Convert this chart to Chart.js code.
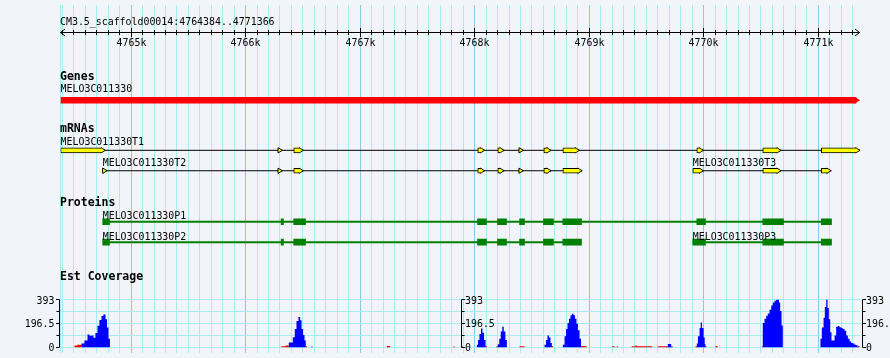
<!DOCTYPE html>
<html>
<head>
<meta charset="utf-8">
<script src="https://cdn.jsdelivr.net/npm/chart.js@4/dist/chart.umd.min.js"></script>
<style>
html,body{margin:0;padding:0;background:#f1f4f9;}
#wrap{width:890px;height:358px;position:relative;}
canvas{display:block;}
</style>
</head>
<body>
<div id="wrap"><canvas id="c" width="890" height="358"></canvas></div>
<script>
// ---------------- DATA ----------------
const regionStart = 4764384;
const regionEnd = 4771366;
const regionLabel = 'CM3.5_scaffold00014:4764384..4771366';
const rulerTicks = [4765000, 4766000, 4767000, 4768000, 4769000, 4770000, 4771000];
const rulerTickLabels = ['4765k', '4766k', '4767k', '4768k', '4769k', '4770k', '4771k'];
const trackTitles = ['Genes', 'mRNAs', 'Proteins', 'Est Coverage'];

const geneNames = ['MELO3C011330'];
const geneSpans = [[4764384, 4771366]];

const mrnaNames = ['MELO3C011330T1', 'MELO3C011330T2', 'MELO3C011330T3'];
const mrnaSpans = [[4764384, 4771366], [4764752, 4768939], [4769905, 4771114]];
const mrnaExonsT1 = [[4764384, 4764776], [4766304, 4766322], [4766420, 4766505], [4768027, 4768088],
  [4768202, 4768258], [4768392, 4768426], [4768604, 4768668], [4768770, 4768916],
  [4769940, 4769999], [4770516, 4770677], [4771027, 4771366]];
const mrnaExonsT2 = [[4764752, 4764791], [4766304, 4766322], [4766420, 4766505], [4768027, 4768088],
  [4768202, 4768258], [4768392, 4768426], [4768604, 4768668], [4768770, 4768939]];
const mrnaExonsT3 = [[4769905, 4769999], [4770516, 4770677], [4771027, 4771114]];

const proteinNames = ['MELO3C011330P1', 'MELO3C011330P2', 'MELO3C011330P3'];
const proteinSpans = [[4764752, 4771116], [4764752, 4768933], [4769905, 4771116]];
const proteinBlocksP1 = [[4764752, 4764811], [4766310, 4766330], [4766420, 4766523], [4768025, 4768103],
  [4768199, 4768278], [4768392, 4768435], [4768601, 4768688], [4768770, 4768933],
  [4769940, 4770016], [4770516, 4770697], [4771027, 4771116]];
const proteinBlocksP2 = [[4764752, 4764811], [4766310, 4766330], [4766420, 4766523], [4768025, 4768103],
  [4768199, 4768278], [4768392, 4768435], [4768601, 4768688], [4768770, 4768933]];
const proteinBlocksP3 = [[4769905, 4770016], [4770516, 4770697], [4771027, 4771116]];

const covTickValues = [0, 98.25, 196.5, 294.75, 393];
const covTickLabels = ['0', '', '196.5', '', '393'];

// EST coverage, blue series (bin start bp, depth)
const estBluePos = [4764384,
  4764566, 4764592, 4764619, 4764636, 4764654, 4764671, 4764688, 4764706, 4764723, 4764741, 4764758, 4764776, 4764789, 4764802, 4764815,
  4766377, 4766412, 4766429, 4766444, 4766461, 4766476, 4766488, 4766502, 4766514, 4766525,
  4768019, 4768029, 4768042, 4768055, 4768068, 4768082, 4768095,
  4768202, 4768215, 4768228, 4768241, 4768254, 4768268, 4768281,
  4768610, 4768623, 4768636, 4768649, 4768662, 4768674,
  4768770, 4768785, 4768798, 4768811, 4768824, 4768837, 4768850, 4768863, 4768876, 4768889, 4768902, 4768916, 4768929,
  4769687, 4769716,
  4769940, 4769950, 4769964, 4769974, 4769985, 4769999, 4770009, 4770016,
  4770516, 4770531, 4770546, 4770560, 4770575, 4770590, 4770604, 4770619, 4770633, 4770647, 4770658, 4770668, 4770680, 4770691,
  4771020, 4771032, 4771047, 4771058, 4771070, 4771082, 4771093, 4771105, 4771116, 4771128, 4771143, 4771157, 4771171, 4771186,
  4771201, 4771215, 4771230, 4771245, 4771259, 4771274, 4771288, 4771302, 4771317, 4771332, 4771346];
const estBlueDepth = [0,
  30, 56, 105, 94, 97, 78, 118, 178, 226, 258, 272, 231, 164, 70, 0,
  38, 83, 151, 218, 250, 223, 151, 102, 56, 0,
  20, 60, 110, 156, 120, 60, 0,
  25, 70, 130, 170, 130, 60, 0,
  20, 60, 97, 80, 35, 0,
  20, 90, 150, 200, 235, 265, 277, 265, 235, 195, 140, 70, 0,
  27, 0,
  30, 90, 160, 204, 160, 80, 25, 0,
  200, 235, 260, 280, 310, 345, 370, 385, 393, 393, 370, 300, 180, 0,
  70, 164, 245, 333, 393, 325, 231, 124, 56, 56, 97, 170, 175, 165,
  160, 151, 137, 97, 70, 48, 35, 30, 21, 16, 0];

// EST coverage, red series (bin start bp, depth)
const estRedPos = [4764384, 4764505, 4764531, 4764566, 4766313, 4766348, 4766377, 4766525, 4766534,
  4766575, 4766584, 4767233, 4767262, 4767815, 4767824, 4767882, 4767894, 4768095, 4768107,
  4768191, 4768202, 4768392, 4768435, 4768674, 4768684, 4768929, 4768977,
  4769201, 4769221, 4769241, 4769250, 4769372, 4769405, 4769414, 4769551, 4769599, 4769730,
  4769929, 4769940, 4770016, 4770024, 4770103, 4770121, 4770509, 4770516, 4771346, 4771362];
const estRedDepth = [0, 14, 20, 0, 8, 14, 0, 10, 0,
  8, 0, 10, 0, 8, 0, 10, 0, 10, 0,
  10, 0, 8, 0, 10, 0, 10, 0,
  8, 0, 8, 0, 8, 16, 8, 0, 8, 0,
  10, 0, 10, 0, 10, 0, 10, 0, 10, 0];

// ---------------- LAYOUT / STYLE ----------------
const L = {
  plotLeft: 60.6, plotRight: 860.1, width: 890, height: 358,
  labelX: 60,
  rulerTitleY: 25, rulerLineY: 32.5, rulerLabelY: 45.5,
  genesTitleY: 80, geneRow: 98,
  mrnaTitleY: 132, mrnaRows: [149.5, 170.5, 170.5],
  protTitleY: 206, protRows: [223, 244, 244],
  covTitleY: 279.5,
  covZeroPx: 352, covTopPx: 303.3
};
const S = {
  bg: '#f1f4f9', gridMinor: '#a6ecf1', gridMajor: '#8cc9e8',
  gene: '#ff0000', exon: '#ffff00', cds: '#008000', blue: '#0000ff', red: '#ff0000', ink: '#000000',
  font: '11px "DejaVu Sans Mono"', fontBold: 'bold 11.5px "DejaVu Sans Mono"', squeeze: 0.9
};
const bpPerPx = (regionEnd - regionStart) / (L.plotRight - L.plotLeft);

// y scale for coverage so that 0 and 393 land on the panel's baseline/top
const covMax = covTickValues[covTickValues.length - 1];
const covRange = covMax * L.height / (L.covZeroPx - L.covTopPx);
const covMin = -(L.height - L.covZeroPx) * covRange / L.height;

// ---------------- DATASETS ----------------
const datasets = [];
function lineDs(span, row, color, width, order) {
  return { type: 'line', xAxisID: 'x', yAxisID: 'yt', data: [{ x: span[0], y: row }, { x: span[1], y: row }],
    borderColor: color, borderWidth: width, pointRadius: 0, fill: false, order };
}
function barDs(blocks, row, color, thick, border, order, skip) {
  return { type: 'bar', indexAxis: 'y', xAxisID: 'x', yAxisID: 'yt', grouped: false,
    barThickness: thick, maxBarThickness: thick, data: blocks.map(b => ({ x: b, y: row })),
    backgroundColor: color, borderColor: S.ink, borderWidth: border, borderSkipped: skip, order };
}
function triDs(points, row, color, radius, border, order) {
  return { type: 'scatter', xAxisID: 'x', yAxisID: 'yt', data: points.map(p => ({ x: p, y: row })),
    pointStyle: 'triangle', pointRotation: 90, pointRadius: radius, pointBackgroundColor: color,
    pointBorderColor: S.ink, pointBorderWidth: border, showLine: false, order };
}

// gene
datasets.push(barDs(geneSpans.map(([s, e]) => [s, e - 4 * bpPerPx]), L.geneRow, S.gene, 6, 0, 3, false));
datasets.push(triDs(geneSpans.map(([s, e]) => e - 4 * bpPerPx), L.geneRow, S.gene, 4, 0, 3));

// mRNAs
const mrnaExons = [mrnaExonsT1, mrnaExonsT2, mrnaExonsT3];
mrnaExons.forEach((exons, i) => {
  const row = L.mrnaRows[i];
  datasets.push(lineDs(mrnaSpans[i], row, S.ink, 1, 8));
  const boxes = exons.filter(([s, e]) => (e - s) / bpPerPx > 4).map(([s, e]) => [s, e - 3 * bpPerPx]);
  datasets.push(barDs(boxes, row, S.exon, 5, 1, 4, 'right'));
  datasets.push(triDs(exons.map(([s, e]) => e - 3 * bpPerPx), row, S.exon, 3, 1, 6));
});

// proteins
const protBlocks = [proteinBlocksP1, proteinBlocksP2, proteinBlocksP3];
protBlocks.forEach((blocks, i) => {
  const row = L.protRows[i];
  datasets.push(lineDs(proteinSpans[i], row, S.cds, 2, 8));
  datasets.push(barDs(blocks, row, S.cds, 6, 0, 4, false));
});

// EST coverage
function covDs(pos, depth, color, order) {
  return { type: 'line', xAxisID: 'x', yAxisID: 'yCov', data: pos.map((p, i) => ({ x: p, y: depth[i] })),
    stepped: true, fill: 'origin', backgroundColor: color, borderWidth: 0, borderColor: 'rgba(0,0,0,0)',
    pointRadius: 0, order };
}
datasets.push(covDs(estRedPos, estRedDepth, S.red, 20));
datasets.push(covDs(estBluePos, estBlueDepth, S.blue, 19));

// grid positions every 100 bp
const gridValues = [regionStart];
for (let v = Math.ceil(regionStart / 100) * 100; v < regionEnd; v += 100) if (v !== regionStart) gridValues.push(v);

// ---------------- TEXT / RULER / COVERAGE AXES ----------------
function txt(ctx, s, x, y, opt) {
  opt = opt || {};
  ctx.save();
  ctx.font = opt.bold ? S.fontBold : S.font;
  ctx.fillStyle = S.ink;
  ctx.textBaseline = 'alphabetic';
  ctx.textAlign = opt.align || 'left';
  ctx.translate(x, y);
  ctx.scale(opt.bold ? 1 : S.squeeze, 1);
  ctx.fillText(s, 0, 0);
  ctx.restore();
}
const overlay = {
  id: 'gbrowseOverlay',
  afterDraw(chart) {
    const ctx = chart.ctx, xs = chart.scales.x, yc = chart.scales.yCov, area = chart.chartArea;
    const ax = v => Math.round(xs.getPixelForValue(v) - 0.5) + 0.5;
    const ay = v => Math.round(yc.getPixelForValue(v) - 0.5) + 0.5;
    ctx.save();
    ctx.strokeStyle = S.ink; ctx.lineWidth = 1;
    // ruler
    const ry = L.rulerLineY, xl = Math.floor(area.left) - 0.5 + 1, xr = Math.round(area.right) - 0.5;
    ctx.beginPath();
    ctx.moveTo(xl, ry); ctx.lineTo(xr, ry);
    ctx.moveTo(xl + 4.5, ry - 3.5); ctx.lineTo(xl, ry); ctx.lineTo(xl + 4.5, ry + 3.5);
    ctx.moveTo(xr - 4.5, ry - 3.5); ctx.lineTo(xr, ry); ctx.lineTo(xr - 4.5, ry + 3.5);
    gridValues.slice(1).forEach(v => {
      const major = v % 1000 === 0;
      const x = ax(v);
      ctx.moveTo(x, major ? ry - 4.5 : ry - 2.5); ctx.lineTo(x, major ? ry + 4.5 : ry + 2.5);
    });
    ctx.stroke();
    txt(ctx, regionLabel, L.labelX, L.rulerTitleY);
    rulerTicks.forEach((v, i) => txt(ctx, rulerTickLabels[i], ax(v), L.rulerLabelY, { align: 'center' }));

    // track titles and feature names
    txt(ctx, trackTitles[0], L.labelX, L.genesTitleY, { bold: true });
    txt(ctx, trackTitles[1], L.labelX, L.mrnaTitleY, { bold: true });
    txt(ctx, trackTitles[2], L.labelX, L.protTitleY, { bold: true });
    txt(ctx, trackTitles[3], L.labelX, L.covTitleY, { bold: true });
    geneNames.forEach((n, i) => txt(ctx, n, Math.max(L.labelX, xs.getPixelForValue(geneSpans[i][0])), L.geneRow - 6));
    mrnaNames.forEach((n, i) => txt(ctx, n, Math.max(L.labelX, xs.getPixelForValue(mrnaSpans[i][0])), L.mrnaRows[i] - 4.5));
    proteinNames.forEach((n, i) => txt(ctx, n, Math.max(L.labelX, xs.getPixelForValue(proteinSpans[i][0])), L.protRows[i] - 4));

    // coverage axes: left, centre, right
    const leftX = Math.floor(area.left) - 0.5;
    const rightX = Math.round(area.right) + 2.5;
    const midX = Math.round((leftX + rightX) / 2) + 0.5;
    const yTop = ay(covMax), yBot = ay(0);
    [[leftX, -1], [midX, 1], [rightX, 1]].forEach(([x, dir]) => {
      ctx.beginPath();
      ctx.moveTo(x, yTop); ctx.lineTo(x, yBot);
      covTickValues.forEach((v, i) => {
        const y = ay(v);
        ctx.moveTo(x, y); ctx.lineTo(x + dir * (covTickLabels[i] ? 3.5 : 3), y);
      });
      ctx.stroke();
      covTickValues.forEach((v, i) => {
        if (!covTickLabels[i]) return;
        const y = yc.getPixelForValue(v) + 3.8;
        if (dir < 0) txt(ctx, covTickLabels[i], x - 5, y, { align: 'right' });
        else txt(ctx, covTickLabels[i], x + 3.5, y, { align: 'left' });
      });
    });
    ctx.restore();
  }
};

// ---------------- CHART ----------------
new Chart(document.getElementById('c'), {
  type: 'line',
  data: { datasets },
  options: {
    responsive: false, animation: false, devicePixelRatio: 1, events: [],
    layout: { padding: { left: L.plotLeft, right: L.width - L.plotRight, top: 0, bottom: 0 } },
    plugins: { legend: { display: false }, tooltip: { enabled: false } },
    scales: {
      x: {
        type: 'linear', min: regionStart, max: regionEnd, position: 'bottom', stacked: false, offset: false,
        afterBuildTicks: s => { s.ticks = gridValues.map(v => ({ value: v })); },
        afterFit: s => { s.height = 0; },
        ticks: { display: false }, border: { display: false },
        grid: { drawTicks: false, lineWidth: 1,
          color: c => (c.tick && c.tick.value % 1000 === 0) ? S.gridMajor : S.gridMinor }
      },
      yt: { type: 'linear', min: 0, max: L.height, reverse: true, display: false, offset: false },
      yCov: {
        type: 'linear', min: covMin, max: covMin + covRange, position: 'left', offset: false,
        afterBuildTicks: s => { s.ticks = covTickValues.map(v => ({ value: v })); },
        afterFit: s => { s.width = 0; },
        ticks: { display: false }, border: { display: false },
        grid: { drawTicks: false, lineWidth: 1, color: S.gridMinor }
      }
    }
  },
  plugins: [overlay]
});
</script>
</body>
</html>
